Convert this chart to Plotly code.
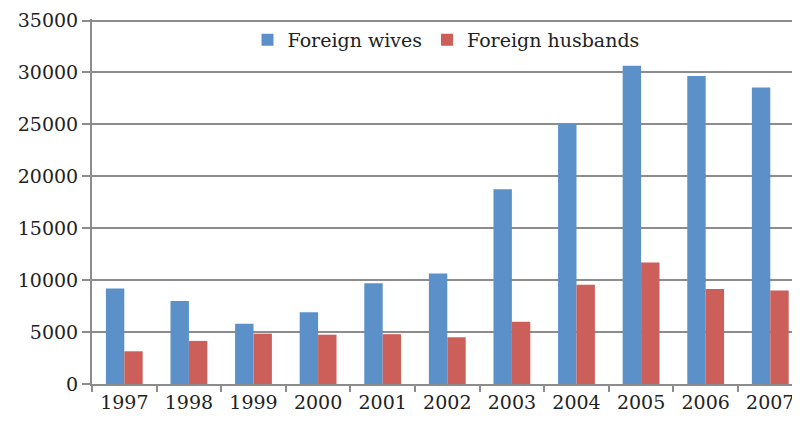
import plotly.graph_objects as go

# Data
years = ['1997', '1998', '1999', '2000', '2001', '2002', '2003', '2004', '2005', '2006', '2007']
foreign_wives = [9200, 8000, 5800, 6900, 9700, 10650, 18750, 25050, 30650, 29650, 28550]
foreign_husbands = [3150, 4150, 4850, 4750, 4800, 4500, 6000, 9550, 11700, 9150, 9000]
y_ticks = [0, 5000, 10000, 15000, 20000, 25000, 30000, 35000]

font_name = 'DejaVu Serif'
grid_color = '#8c8c8c'

fig = go.Figure()
fig.add_trace(go.Bar(x=years, y=foreign_wives, name='Foreign wives',
                     marker=dict(color='#5b90c9', line=dict(width=0))))
fig.add_trace(go.Bar(x=years, y=foreign_husbands, name='Foreign husbands',
                     marker=dict(color='#cd5f5a', line=dict(width=0))))

# the page body adds an 8px offset, so margins are shifted to compensate
fig.update_layout(
    width=800, height=427,
    margin=dict(l=84, r=8, t=11, b=51),
    barmode='group', bargap=0.43, bargroupgap=0,
    plot_bgcolor='white', paper_bgcolor='white',
    font=dict(family=font_name, size=20, color='#222222'),
    legend=dict(
        orientation='h', x=0.5, xanchor='center', y=0.995, yanchor='top',
        font=dict(size=19, color='#222222'),
        bgcolor='rgba(0,0,0,0)', itemwidth=30, tracegroupgap=0,
    ),
    showlegend=True,
)

fig.update_xaxes(
    type='category', range=[-0.5, 10.46], automargin=False,
    showline=True, linecolor=grid_color, linewidth=2,
    ticks='outside', tickson='boundaries', ticklen=6, tickcolor=grid_color, tickwidth=2,
    showgrid=False, tickfont=dict(size=19, color='#222222'),
)
# small headroom above 35000 so the top gridline is drawn
fig.update_yaxes(
    range=[0, 35150], tickvals=y_ticks, ticktext=[str(v) for v in y_ticks],
    automargin=False, ticklabeloverflow='allow',
    showline=True, linecolor=grid_color, linewidth=2,
    ticks='outside', ticklen=8, tickcolor=grid_color, tickwidth=2,
    showgrid=True, gridcolor=grid_color, gridwidth=2,
    zeroline=False, tickfont=dict(size=19, color='#222222'),
)

fig.write_html("out.html")
